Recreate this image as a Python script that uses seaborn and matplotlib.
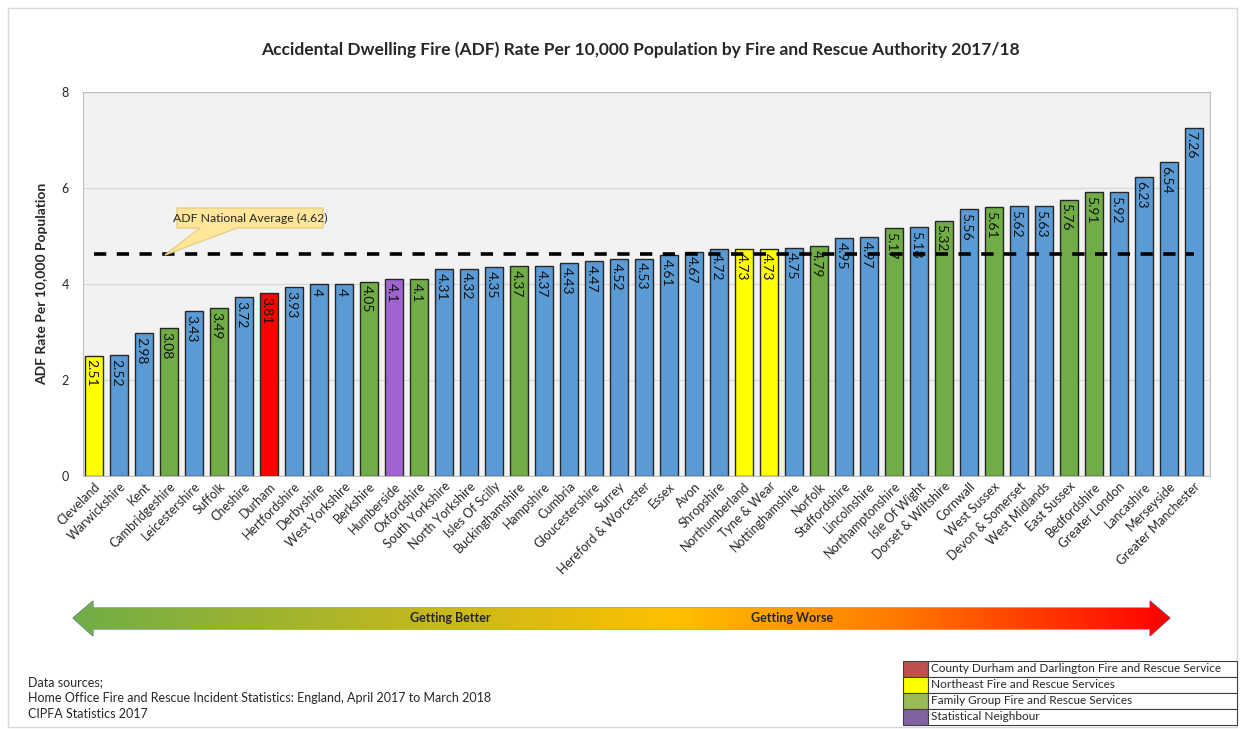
import numpy as np
import pandas as pd
import matplotlib
matplotlib.use('Agg')
import matplotlib.pyplot as plt
import seaborn as sns
from matplotlib.patches import Polygon, Rectangle
from matplotlib.colors import LinearSegmentedColormap

authorities = ['Cleveland', 'Warwickshire', 'Kent', 'Cambridgeshire', 'Leicestershire',
               'Suffolk', 'Cheshire', 'Durham', 'Hertfordshire', 'Derbyshire',
               'West Yorkshire', 'Berkshire', 'Humberside', 'Oxfordshire', 'South Yorkshire',
               'North Yorkshire', 'Isles Of Scilly', 'Buckinghamshire', 'Hampshire', 'Cumbria',
               'Gloucestershire', 'Surrey', 'Hereford & Worcester', 'Essex', 'Avon',
               'Shropshire', 'Northumberland', 'Tyne & Wear', 'Nottinghamshire', 'Norfolk',
               'Staffordshire', 'Lincolnshire', 'Northamptonshire', 'Isle Of Wight',
               'Dorset & Wiltshire', 'Cornwall', 'West Sussex', 'Devon & Somerset',
               'West Midlands', 'East Sussex', 'Bedfordshire', 'Greater London',
               'Lancashire', 'Merseyside', 'Greater Manchester']
rates = [2.51, 2.52, 2.98, 3.08, 3.43, 3.49, 3.72, 3.81, 3.93, 4, 4, 4.05, 4.1, 4.1,
         4.31, 4.32, 4.35, 4.37, 4.37, 4.43, 4.47, 4.52, 4.53, 4.61, 4.67, 4.72, 4.73,
         4.73, 4.75, 4.79, 4.95, 4.97, 5.17, 5.18, 5.32, 5.56, 5.61, 5.62, 5.63, 5.76,
         5.91, 5.92, 6.23, 6.54, 7.26]
groups = ['northeast', 'other', 'other', 'family', 'other', 'family', 'other', 'durham',
          'other', 'other', 'other', 'family', 'neighbour', 'family', 'other', 'other',
          'other', 'family', 'other', 'other', 'other', 'other', 'other', 'other', 'other',
          'other', 'northeast', 'northeast', 'other', 'family', 'other', 'other', 'family',
          'other', 'family', 'other', 'family', 'other', 'other', 'family', 'family',
          'other', 'other', 'other', 'other']
national_average = 4.62

bar_colours = {'other': '#5b9bd5', 'family': '#70ad47', 'northeast': '#ffff00',
               'durham': '#ff0000', 'neighbour': '#a064d0'}
legend_labels = ['County Durham and Darlington Fire and Rescue Service',
                 'Northeast Fire and Rescue Services',
                 'Family Group Fire and Rescue Services',
                 'Statistical Neighbour']
legend_colours = ['#c0504d', '#ffff00', '#9bbb59', '#8064a2']
sources = ['Data sources;',
           'Home Office Fire and Rescue Incident Statistics: England, April 2017 to March 2018',
           'CIPFA Statistics 2017']

df = pd.DataFrame({'authority': authorities, 'rate': rates, 'group': groups})

sns.set_theme(style='white')
plt.rcParams['font.family'] = ['Lato', 'DejaVu Sans']

fig = plt.figure(figsize=(12.4, 7.29), dpi=100)
ax = fig.add_axes([83 / 1240, 1 - 476 / 729, 1127 / 1240, 384 / 729])
ax.set_facecolor('#f2f2f2')

sns.barplot(data=df, x='authority', y='rate', hue='group', palette=bar_colours,
            order=authorities, dodge=False, width=0.72, edgecolor='#262626',
            linewidth=1, saturation=1, errorbar=None, legend=False, ax=ax, zorder=2)

# value labels, reading downwards from the bar top
for i, v in enumerate(rates):
    ax.text(i - 0.1, v - 0.08, f'{v:g}', rotation=270, ha='center', va='top',
            fontsize=10, color='#111111', zorder=4)

ax.plot([0, len(rates) - 1], [national_average, national_average], color='black',
        lw=2.6, dashes=(3.4, 2.9), zorder=5)

ax.set_ylim(0, 8)
ax.set_yticks([0, 2, 4, 6, 8])
ax.set_xlim(-0.44, len(rates) - 1 + 0.64)
ax.yaxis.grid(True, color='#d9d9d9', lw=1)
ax.set_axisbelow(True)
ax.tick_params(axis='y', labelsize=9, pad=10, length=0)
ax.tick_params(axis='x', labelsize=9, pad=3, length=0)
plt.setp(ax.get_xticklabels(), rotation=45, ha='right', rotation_mode='anchor')
for s in ax.spines.values():
    s.set_color('#bfbfbf')
    s.set_linewidth(0.8)
ax.set_xlabel('')
ax.set_ylabel('ADF Rate Per 10,000 Population', fontsize=10, fontweight='bold', labelpad=10)

# overlay in pixel coordinates for annotations
ov = fig.add_axes([0, 0, 1, 1], zorder=10)
ov.set_xlim(0, 1240)
ov.set_ylim(729, 0)
ov.axis('off')

ov.add_patch(Rectangle((8, 8), 1229, 719, fill=False, edgecolor='#d9d9d9', lw=1))

ov.text(640, 50, 'Accidental Dwelling Fire (ADF) Rate Per 10,000 Population by Fire and Rescue Authority 2017/18',
        ha='center', va='center', fontsize=12.5, fontweight='bold')

callout = Polygon([(177, 208), (323, 208), (323, 228), (237, 228), (165, 255),
                   (200, 228), (177, 228)], closed=True, facecolor='#ffe699',
                  edgecolor='#e6cf85', lw=1)
ov.add_patch(callout)
ov.text(250, 218, 'ADF National Average (4.62)', ha='center', va='center', fontsize=8.8)

# gradient arrow
arrow = Polygon([(73, 618), (93, 601), (93, 608), (1150, 608), (1150, 601), (1170, 618),
                 (1150, 636), (1150, 629), (93, 629), (93, 636)], closed=True,
                facecolor='none', edgecolor='#4a6e8f', lw=0.8)
ov.add_patch(arrow)
cmap = LinearSegmentedColormap.from_list('better_worse', [(0, '#70ad47'), (0.55, '#ffc000'),
                                                          (0.75, '#ff7a00'), (1, '#ff0000')])
img = ov.imshow(np.linspace(0, 1, 512).reshape(1, -1), cmap=cmap, aspect='auto',
                extent=[73, 1170, 636, 601], zorder=1)
img.set_clip_path(arrow)
ov.set_xlim(0, 1240)
ov.set_ylim(729, 0)
ov.text(450, 618, 'Getting Better', ha='center', va='center', fontsize=9, fontweight='bold', zorder=3)
ov.text(792, 618, 'Getting Worse', ha='center', va='center', fontsize=9, fontweight='bold', zorder=3)

for k, line in enumerate(sources):
    ov.text(28, 682 + 16 * k, line, ha='left', va='center', fontsize=9)

for k, (lab, col) in enumerate(zip(legend_labels, legend_colours)):
    y0 = 661 + 16 * k
    ov.add_patch(Rectangle((903, y0), 25, 16, facecolor=col, edgecolor='#404040', lw=0.8))
    ov.add_patch(Rectangle((928, y0), 309, 16, facecolor='white', edgecolor='#404040', lw=0.8))
    ov.text(931, y0 + 8, lab, ha='left', va='center', fontsize=8.5)

fig.savefig('out.png', dpi=100)
